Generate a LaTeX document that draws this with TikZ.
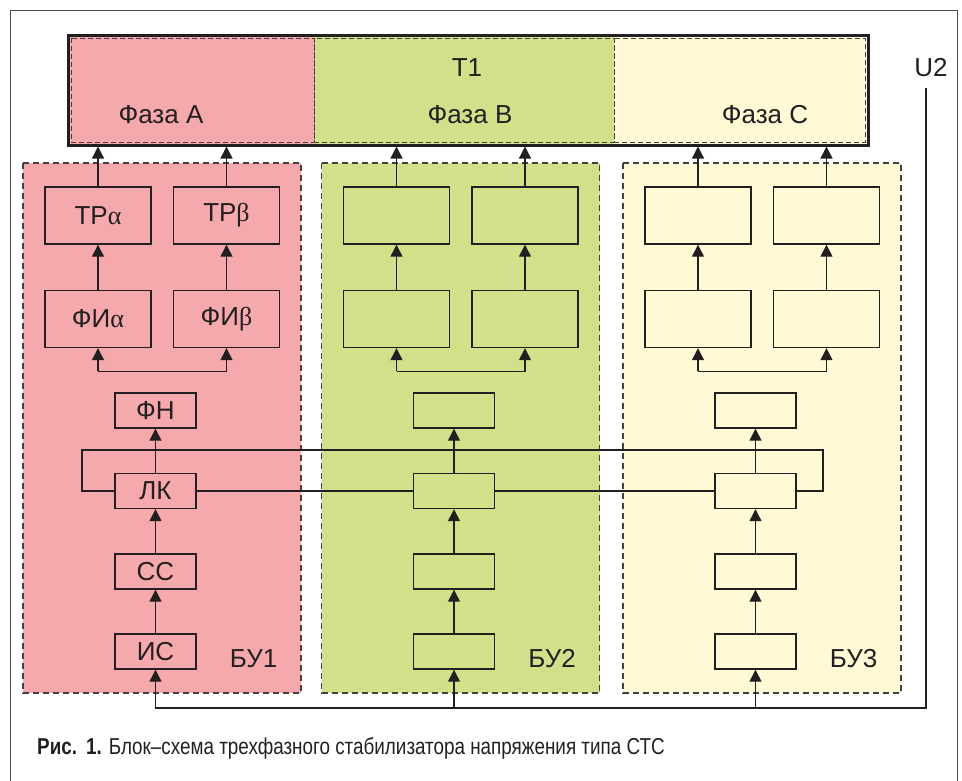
\documentclass[tikz,border=0pt]{standalone}
\usepackage{fontspec}
\setmainfont{Liberation Sans}
\newfontfamily\capfont[FakeStretch=0.82]{Liberation Sans}
\newfontfamily\grk{Liberation Serif}
\usetikzlibrary{arrows.meta,positioning,calc}

\definecolor{phA}{RGB}{245,169,172}
\definecolor{phB}{RGB}{211,224,138}
\definecolor{phC}{RGB}{255,250,213}
\definecolor{ink}{RGB}{35,31,32}

\tikzset{
  blk/.style={draw=ink,line width=1.4pt,inner sep=0pt,minimum width=106pt,minimum height=57pt,text=ink,font=\fontsize{26}{30}\selectfont},
  sblk/.style={blk,minimum width=81pt,minimum height=35pt},
  arr/.style={draw=ink,line width=1.3pt,-{Triangle[length=12pt,width=12pt]}},
  wire/.style={draw=ink,line width=1.3pt},
  unit/.style={draw=ink!85,dash pattern=on 6pt off 4pt,line width=1.3pt},
  lbl/.style={font=\fontsize{26}{30}\selectfont,text=ink,inner sep=0pt},
}

\begin{document}
\begin{tikzpicture}[x=1pt,y=-1pt,line join=miter]
    \useasboundingbox (0,0) rectangle (962,780);
    % outer frame
    \draw[line width=1.2pt,draw=black!70] (10.5,800) |- (957.5,10.5) -- (957.5,800);
    % transformer T1
    \fill[phA] (68,35) rectangle (314,145);
    \fill[phB] (314,35) rectangle (614,145);
    \fill[phC] (614,35) rectangle (868,145);
    \draw[unit,line width=1pt,dash pattern=on 5pt off 3pt] (71,38) rectangle (314,142) (314,38) rectangle (614,142) (614,38) rectangle (865,142);
    \node[draw=ink,line width=3pt,minimum width=800pt,minimum height=110pt,inner sep=0pt] (t1) at (468,90) {};
    \node[lbl] (t1lbl) at (467,68) {T1};
    \node[lbl] (fazaA) at (161,115) {Фаза A};
    \node[lbl] (fazaB) at (470,115) {Фаза B};
    \node[lbl] (fazaC) at (765,115) {Фаза C};
    % control units
    \foreach \i/\dx/\col in {1/0/phA,2/298.5/phB,3/600/phC}{
      \begin{scope}[xshift=\dx pt]
        \draw[unit,fill=\col] (23,163) rectangle (301,693);
        \node[blk,fill=\col] (tra\i) at (98,215.5) {\ifnum\i=1 ТР{\grk α}\fi};
        \node[blk,fill=\col] (trb\i) at (226.5,215.5) {\ifnum\i=1 ТР{\grk β}\fi};
        \node[blk,fill=\col] (fia\i) at (98,319) {\ifnum\i=1 ФИ{\grk α}\fi};
        \node[blk,fill=\col] (fib\i) at (226.5,319) {\ifnum\i=1 ФИ{\grk β}\fi};
        \node[sblk,fill=\col] (fn\i) at (155.5,410.5) {\ifnum\i=1 ФН\fi};
        \node[sblk,fill=\col] (lk\i) at (155.5,491) {\ifnum\i=1 ЛК\fi};
        \node[sblk,fill=\col] (ss\i) at (155.5,571.5) {\ifnum\i=1 СС\fi};
        \node[sblk,fill=\col] (is\i) at (155.5,651.5) {\ifnum\i=1 ИС\fi};
        \node[lbl] (bu\i) at (253.5,659) {БУ\i};
      \end{scope}
    }
    \foreach \i in {1,2,3}{
      \coordinate (brk\i) at ($(fia\i.south)+(0,23)$);
      \draw[arr] (brk\i) -- (fia\i);
      \draw[arr] (brk\i) -| (fib\i);
      \draw[arr] (fia\i) -- (tra\i);
      \draw[arr] (fib\i) -- (trb\i);
      \draw[arr] (tra\i) -- (tra\i |- t1.south);
      \draw[arr] (trb\i) -- (trb\i |- t1.south);
      \draw[arr] (is\i) -- (ss\i);
      \draw[arr] (ss\i) -- (lk\i);
      \draw[arr] (lk\i) -- (fn\i);
    }
    % links between the units
    \coordinate (loopL) at (82,450);
    \coordinate (loopR) at (823,450);
    \draw[wire] (lk1.west) -| (loopL) -- (loopR) |- (lk3.east);
    \draw[wire] (lk1) -- (lk2);
    \draw[wire] (lk2) -- (lk3);
    % supply U2
    \node[lbl] (u2) at (931,68) {U2};
    \coordinate (u2top) at (926,88);
    \coordinate (bus) at (155.5,708);
    \draw[arr] (u2top) |- (bus) -- (is1);
    \draw[arr] (is2 |- bus) -- (is2);
    \draw[arr] (is3 |- bus) -- (is3);
    % caption
    \node[anchor=west,inner sep=0pt,text=ink,font=\capfont\fontsize{23}{26}\selectfont] (cap) at (37,748)
      {\textbf{Рис.~\,1.} Блок–схема трехфазного стабилизатора напряжения типа СТС};
\end{tikzpicture}
\end{document}
